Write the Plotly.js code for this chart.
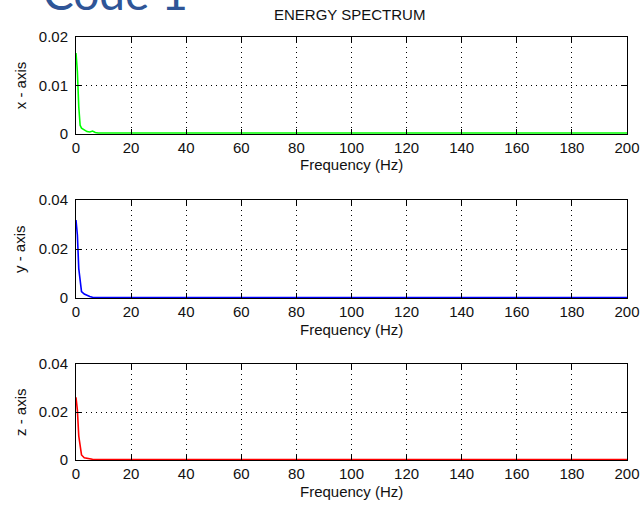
<!DOCTYPE html>
<html>
<head>
<meta charset="utf-8">
<script src="https://cdn.plot.ly/plotly-3.0.1.min.js"></script>
<style>html,body{margin:0;padding:0;background:#fff;}#chart{width:644px;height:511px;}</style>
</head>
<body>
<div id="chart"></div>
<script>
// Frequency samples (Hz)
const freq = [0, 0.5, 1, 1.5, 2, 3, 4, 5, 6, 7, 8, 200];
// Energy spectrum per axis
const xAxisEnergy = [0.0166, 0.0128, 0.0056, 0.0018, 0.0012, 0.0008, 0.0005, 0.0004, 0.0006, 0.0003, 0.0002, 0.0002];
const yAxisEnergy = [0.0318, 0.0257, 0.0120, 0.0058, 0.0026, 0.0016, 0.0010, 0.0006, 0.0003, 0.0002, 0.0002, 0.0002];
const zAxisEnergy = [0.0261, 0.0208, 0.0100, 0.0052, 0.0021, 0.0009, 0.0006, 0.0004, 0.0003, 0.0002, 0.0002, 0.0002];
const xTicks = [0, 20, 40, 60, 80, 100, 120, 140, 160, 180, 200];
const panelLabels = ["x - axis", "y - axis", "z - axis"];
const xTitle = "Frequency (Hz)";
const chartTitle = "ENERGY SPECTRUM";
const slideTitle = "Code 1";

const W = 644, H = 511;
const FONT = "'Liberation Sans', Arial, sans-serif";
const xDom = [76 / W, 627 / W];
const panels = [
  {top: 36.5, bottom: 134, range: [0, 0.02], dtick: 0.01, data: xAxisEnergy, color: '#00ff00'},
  {top: 200, bottom: 298, range: [0, 0.04], dtick: 0.02, data: yAxisEnergy, color: '#0000ff'},
  {top: 364, bottom: 460, range: [0, 0.04], dtick: 0.02, data: zAxisEnergy, color: '#ff0000'}
];

const traces = [];
const layout = {
  width: W, height: H,
  margin: {l: 0, r: 0, t: 0, b: 0},
  paper_bgcolor: '#ffffff', plot_bgcolor: '#ffffff',
  showlegend: false,
  font: {family: FONT, size: 15, color: '#000000'},
  annotations: []
};

panels.forEach((p, i) => {
  const n = i === 0 ? '' : String(i + 1);
  traces.push({
    x: freq, y: p.data, type: 'scatter', mode: 'lines',
    xaxis: 'x' + n, yaxis: 'y' + n,
    line: {color: p.color, width: 1.6}, hoverinfo: 'skip'
  });
  const dom = [1 - p.bottom / H, 1 - p.top / H];
  layout['xaxis' + n] = {
    domain: xDom, range: [0, 200], anchor: 'y' + n,
    tickmode: 'array', tickvals: xTicks, ticktext: xTicks.map(String),
    ticks: 'inside', ticklen: 5, tickcolor: '#000', mirror: 'ticks',
    showline: true, linecolor: '#000', linewidth: 1,
    showgrid: true, gridcolor: '#000', griddash: '1px,4px', gridwidth: 1,
    zeroline: false, fixedrange: true, ticklabelstandoff: 0,
    tickfont: {family: FONT, size: 15, color: '#111'}
  };
  layout['yaxis' + n] = {
    domain: dom, range: p.range, anchor: 'x' + n,
    dtick: p.dtick, tick0: 0,
    ticks: 'inside', ticklen: 5, tickcolor: '#000', mirror: 'ticks',
    showline: true, linecolor: '#000', linewidth: 1,
    showgrid: true, gridcolor: '#000', griddash: '1px,4px', gridwidth: 1,
    zeroline: false, fixedrange: true, ticklabelstandoff: 4,
    tickfont: {family: FONT, size: 15, color: '#111'}
  };
  layout.annotations.push({
    text: panelLabels[i], xref: 'paper', yref: 'paper',
    x: 20 / W, y: 1 - (p.top + p.bottom) / 2 / H, textangle: -90,
    xanchor: 'center', yanchor: 'middle', showarrow: false,
    font: {family: FONT, size: 15, color: '#111'}
  });
  layout.annotations.push({
    text: xTitle, xref: 'paper', yref: 'paper',
    x: (xDom[0] + xDom[1]) / 2, y: 1 - (p.bottom + 31) / H,
    xanchor: 'center', yanchor: 'middle', showarrow: false,
    font: {family: FONT, size: 15, color: '#111'}
  });
});

layout.annotations.push({
  text: chartTitle, xref: 'paper', yref: 'paper',
  x: 349 / W, y: 1 - 14 / H,
  xanchor: 'center', yanchor: 'middle', showarrow: false,
  font: {family: FONT, size: 15, color: '#111'}
});
layout.annotations.push({
  text: slideTitle, xref: 'paper', yref: 'paper',
  x: 41 / W, y: 1 + 8 / H,
  xanchor: 'left', yanchor: 'middle', showarrow: false,
  font: {family: "Lato, 'Open Sans', sans-serif", size: 46, color: '#2f5597'}
});

Plotly.newPlot('chart', traces, layout, {displayModeBar: false, staticPlot: true});
</script>
</body>
</html>
